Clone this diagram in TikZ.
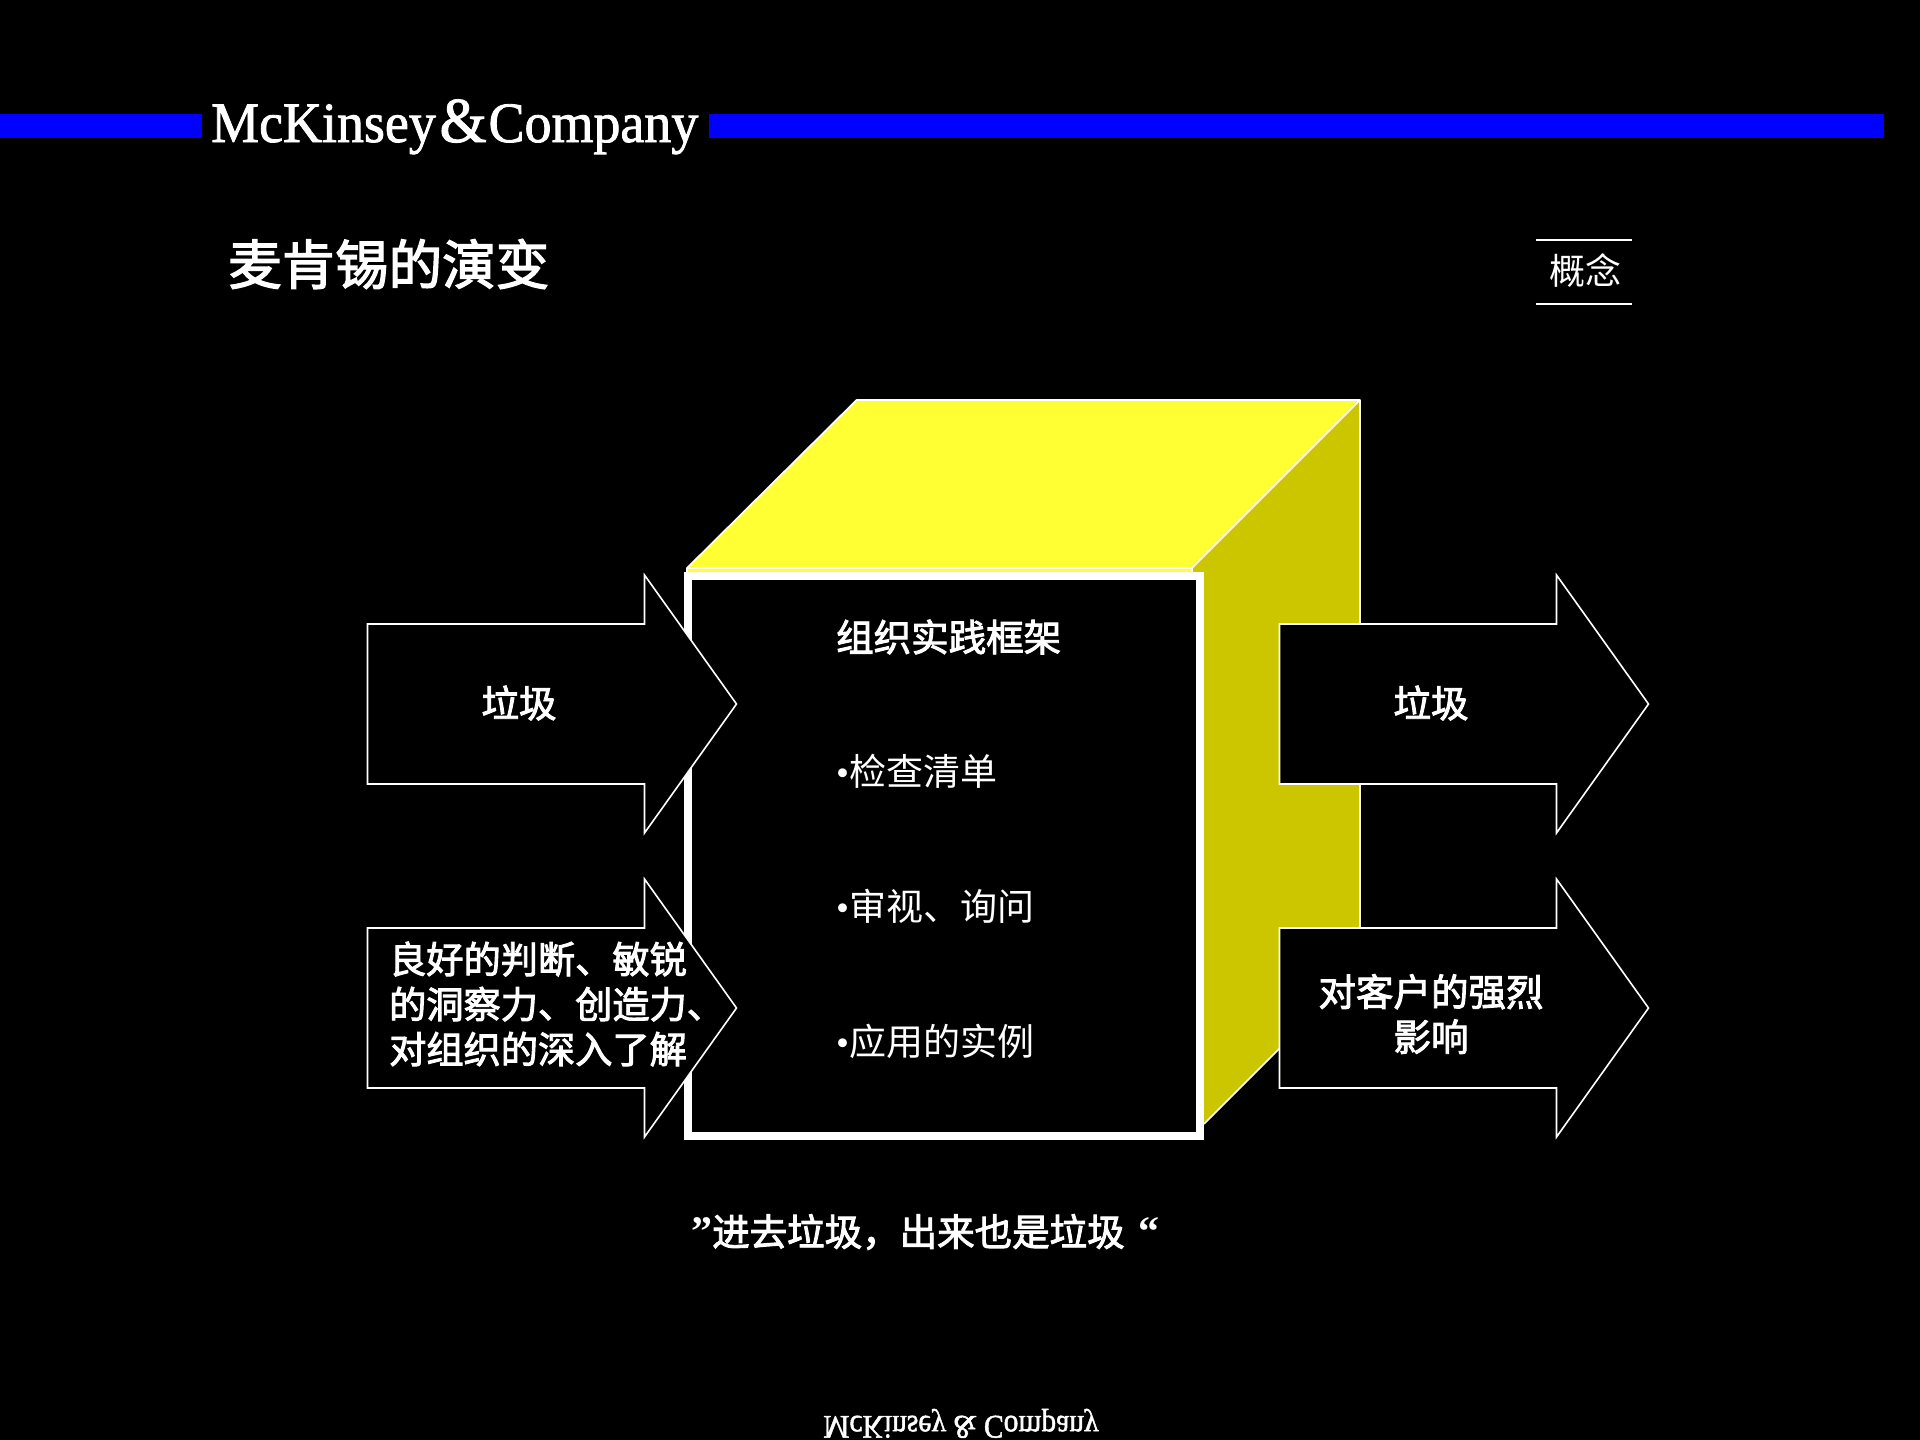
\documentclass[tikz,border=0pt]{standalone}
\usepackage{fontspec}
\setmainfont{Liberation Serif}
\newfontfamily\cjk{Noto Sans CJK SC}
\newfontfamily\cjkb[FakeBold=2.5]{Noto Sans CJK SC}
\newfontfamily\logofont[FakeBold=1.5]{Liberation Serif}
\tikzset{
  x=1pt,y=-1pt,
  flowbox/.style={draw=white,line width=1.6pt,fill=black,line join=miter},
  boldtext/.style={text=white,inner sep=0pt,font=\cjkb\fontsize{37.5}{45}\selectfont,align=center},
  plaintext/.style={text=white,inner sep=0pt,anchor=west,font=\fontsize{37}{45}\selectfont},
  bluebar/.style={fill=mckblue,draw=none},
  rule/.style={draw=white,line width=2pt},
  cubeedge/.style={draw=white,line width=1.6pt,line join=round},
}
\definecolor{mckblue}{RGB}{0,0,255}
\definecolor{cubetop}{RGB}{255,255,51}
\definecolor{cubeside}{RGB}{204,198,0}
\newcommand{\flowarrow}[2]{%
  \path[flowbox] (#1,#2-80) -- (#1+277,#2-80) -- (#1+277,#2-129) -- (#1+369,#2) -- (#1+277,#2+129) -- (#1+277,#2+80) -- (#1,#2+80) -- cycle;}
\newcommand{\cj}[1]{{\cjk #1}}
\begin{document}
\begin{tikzpicture}
\useasboundingbox[fill=black] (0,0) rectangle (1920,1440);
% header
\fill[bluebar] (0,114) rectangle (202,138);
\fill[bluebar] (709,114) rectangle (1884,138);
\node[text=white,inner sep=0pt,anchor=base west,xscale=.946,transform shape,font=\logofont\fontsize{57}{57}\selectfont] (logo) at (211,142) {McKinsey\hspace{4pt}{\fontsize{64}{64}\selectfont\&}\hspace{2pt}Company};
\node[text=white,inner sep=0pt,anchor=west,font=\cjkb\fontsize{53.5}{60}\selectfont] (title) at (228,264) {麦肯锡的演变};
% tag
\draw[rule] (1536,240) -- (1632,240);
\draw[rule] (1536,304) -- (1632,304);
\node[text=white,inner sep=0pt,font=\cjk\fontsize{36}{40}\selectfont] (tag) at (1585,271) {概念};
% cube
\fill[cubetop] (687,568) -- (856.5,400) -- (1360,400) -- (1192,568) -- (1192,574) -- (687,574) -- cycle;
\fill[cubeside] (1192,568) -- (1360,400) -- (1360,968) -- (1204,1124) -- (1192,1124) -- cycle;
\draw[cubeedge] (687,574) -- (687,568) -- (856.5,400) -- (1360,400) -- (1192,568) -- (1192,574);
\draw[cubeedge] (687,568) -- (1192,568);
\draw[cubeedge] (1360,400) -- (1360,968) -- (1204,1124);
\draw[draw=white,line width=8pt,fill=black] (688,576) rectangle (1200,1136);
% arrows
\flowarrow{367.5}{704}
\flowarrow{367.5}{1008}
\flowarrow{1279.5}{704}
\flowarrow{1279.5}{1008}
% arrow labels
\node[boldtext] (inA) at (519,703) {垃圾};
\node[boldtext,anchor=west,align=left,font=\cjkb\fontsize{37.2}{45}\selectfont] (inB) at (389,1004) {良好的判断、敏锐\\的洞察力、创造力、\\对组织的深入了解};
\node[boldtext] (outA) at (1431,703) {垃圾};
\node[boldtext] (outB) at (1431,1014) {对客户的强烈\\影响};
% box text
\node[boldtext,anchor=west] (head) at (836,637) {组织实践框架};
\node[plaintext] (b1) at (836,771) {•\cj{检查清单}};
\node[plaintext] (b2) at (836,906) {•\cj{审视、询问}};
\node[plaintext] (b3) at (836,1041) {•\cj{应用的实例}};
% quote
\node[boldtext,anchor=west] (quote) at (691,1232) {{\rmfamily\bfseries\fontsize{42}{45}\selectfont ”}进去垃圾，出来也是垃圾 \hspace{5pt}{\rmfamily\bfseries\fontsize{42}{45}\selectfont “}};
% mirrored footer
\node[text=white,inner sep=0pt,anchor=base west,xscale=.895,yscale=-1,transform shape,font=\logofont\fontsize{33}{33}\selectfont] (foot) at (823,1416) {McKinsey \& Company};
\end{tikzpicture}
\end{document}
